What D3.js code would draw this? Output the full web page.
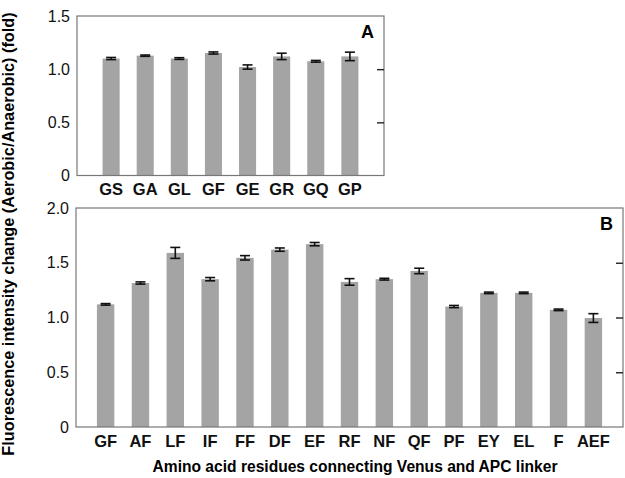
<!DOCTYPE html>
<html>
<head>
<meta charset="utf-8">
<script src="https://cdn.jsdelivr.net/npm/d3@7"></script>
<style>
  body { margin: 0; background: #fff; }
  text { font-family: "Liberation Sans", Arial, Helvetica, sans-serif; }
</style>
</head>
<body>
<script>
    // Panel A data
    const catsA = ["GS", "GA", "GL", "GF", "GE", "GR", "GQ", "GP"];
    const valsA = [1.10, 1.127, 1.10, 1.152, 1.02, 1.12, 1.074, 1.12];
    const errA = [0.01, 0.006, 0.008, 0.01, 0.02, 0.03, 0.008, 0.04];

    // Panel B data
    const catsB = ["GF", "AF", "LF", "IF", "FF", "DF", "EF", "RF", "NF", "QF", "PF", "EY", "EL", "F", "AEF"];
    const valsB = [1.12, 1.315, 1.59, 1.35, 1.545, 1.62, 1.67, 1.325, 1.35, 1.425, 1.10, 1.225, 1.225, 1.07, 0.995];
    const errB = [0.007, 0.01, 0.05, 0.015, 0.02, 0.015, 0.015, 0.03, 0.008, 0.025, 0.01, 0.007, 0.007, 0.007, 0.04];

    const ticksA = [0, 0.5, 1.0, 1.5];
    const ticksB = [0, 0.5, 1.0, 1.5, 2.0];

    const width = 625, height = 478;
    const svg = d3.select("body").append("svg")
      .attr("width", width)
      .attr("height", height);

    // draw one panel
    function panel(cats, vals, errs, ticks, box, letter, outer) {
      const x = d3.scaleBand().domain(cats)
        .range([box.left, box.right])
        .paddingInner(0.5).paddingOuter(outer);
      const y = d3.scaleLinear().domain([0, ticks[ticks.length - 1]])
        .range([box.bottom, box.top]);

      const g = svg.append("g");

      g.selectAll("rect.bar").data(cats).enter().append("rect")
        .attr("class", "bar")
        .attr("x", d => x(d))
        .attr("width", x.bandwidth())
        .attr("y", (d, i) => y(vals[i]))
        .attr("height", (d, i) => y(0) - y(vals[i]))
        .attr("fill", "#a4a4a4");

      // error bars
      const eb = g.selectAll("g.err").data(cats).enter().append("g")
        .attr("stroke", "#111").attr("stroke-width", 1.6);
      eb.append("line")
        .attr("x1", d => x(d) + x.bandwidth() / 2)
        .attr("x2", d => x(d) + x.bandwidth() / 2)
        .attr("y1", (d, i) => y(vals[i] - errs[i]))
        .attr("y2", (d, i) => y(vals[i] + errs[i]));
      [-1, 1].forEach(s => {
        eb.append("line")
          .attr("x1", d => x(d) + x.bandwidth() / 2 - 5)
          .attr("x2", d => x(d) + x.bandwidth() / 2 + 5)
          .attr("y1", (d, i) => y(vals[i] + s * errs[i]))
          .attr("y2", (d, i) => y(vals[i] + s * errs[i]));
      });

      // frame
      g.append("rect")
        .attr("x", box.left).attr("y", box.top)
        .attr("width", box.right - box.left)
        .attr("height", box.bottom - box.top)
        .attr("fill", "none").attr("stroke", "#777").attr("stroke-width", 1.2);

      // left tick labels
      const yAxis = d3.axisLeft(y).tickValues(ticks).tickSize(0).tickPadding(7)
        .tickFormat(d => d === 0 ? "0" : d3.format(".1f")(d));
      const ya = g.append("g").attr("transform", `translate(${box.left},0)`).call(yAxis);
      ya.select(".domain").remove();
      ya.selectAll("text").attr("font-size", 16).attr("fill", "#111")
        .style("font-family", "'Liberation Sans', Arial, sans-serif");

      // right inward ticks
      const yr = g.append("g").attr("transform", `translate(${box.right},0)`)
        .call(d3.axisRight(y).tickValues(ticks.slice(1, -1)).tickSize(-7).tickFormat(""));
      yr.select(".domain").remove();
      yr.selectAll("line").attr("stroke", "#222").attr("stroke-width", 1.4);

      // category labels
      const xa = g.append("g").attr("transform", `translate(0,${box.bottom})`)
        .call(d3.axisBottom(x).tickSize(0).tickPadding(8));
      xa.select(".domain").remove();
      xa.selectAll("text").attr("font-size", 16.5).attr("font-weight", "bold").attr("fill", "#111")
        .style("font-family", "'Liberation Sans', Arial, sans-serif");

      g.append("text")
        .attr("x", box.right - 10).attr("y", box.top + 22)
        .attr("text-anchor", "end")
        .attr("font-size", 18).attr("font-weight", "bold")
        .text(letter);
    }

    panel(catsA, valsA, errA, ticksA, { left: 77, right: 384, top: 16, bottom: 175.5 }, "A", 0.75);
    panel(catsB, valsB, errB, ticksB, { left: 76, right: 623, top: 208, bottom: 427 }, "B", 0.6);

    // axis titles
    svg.append("text")
      .attr("transform", "translate(14,234) rotate(-90)")
      .attr("text-anchor", "middle")
      .attr("font-size", 16.3).attr("font-weight", "bold")
      .text("Fluorescence intensity change (Aerobic/Anaerobic) (fold)");

    svg.append("text")
      .attr("x", 355).attr("y", 472)
      .attr("text-anchor", "middle")
      .attr("font-size", 15.6).attr("font-weight", "bold")
      .text("Amino acid residues connecting Venus and APC linker");
</script>
</body>
</html>
